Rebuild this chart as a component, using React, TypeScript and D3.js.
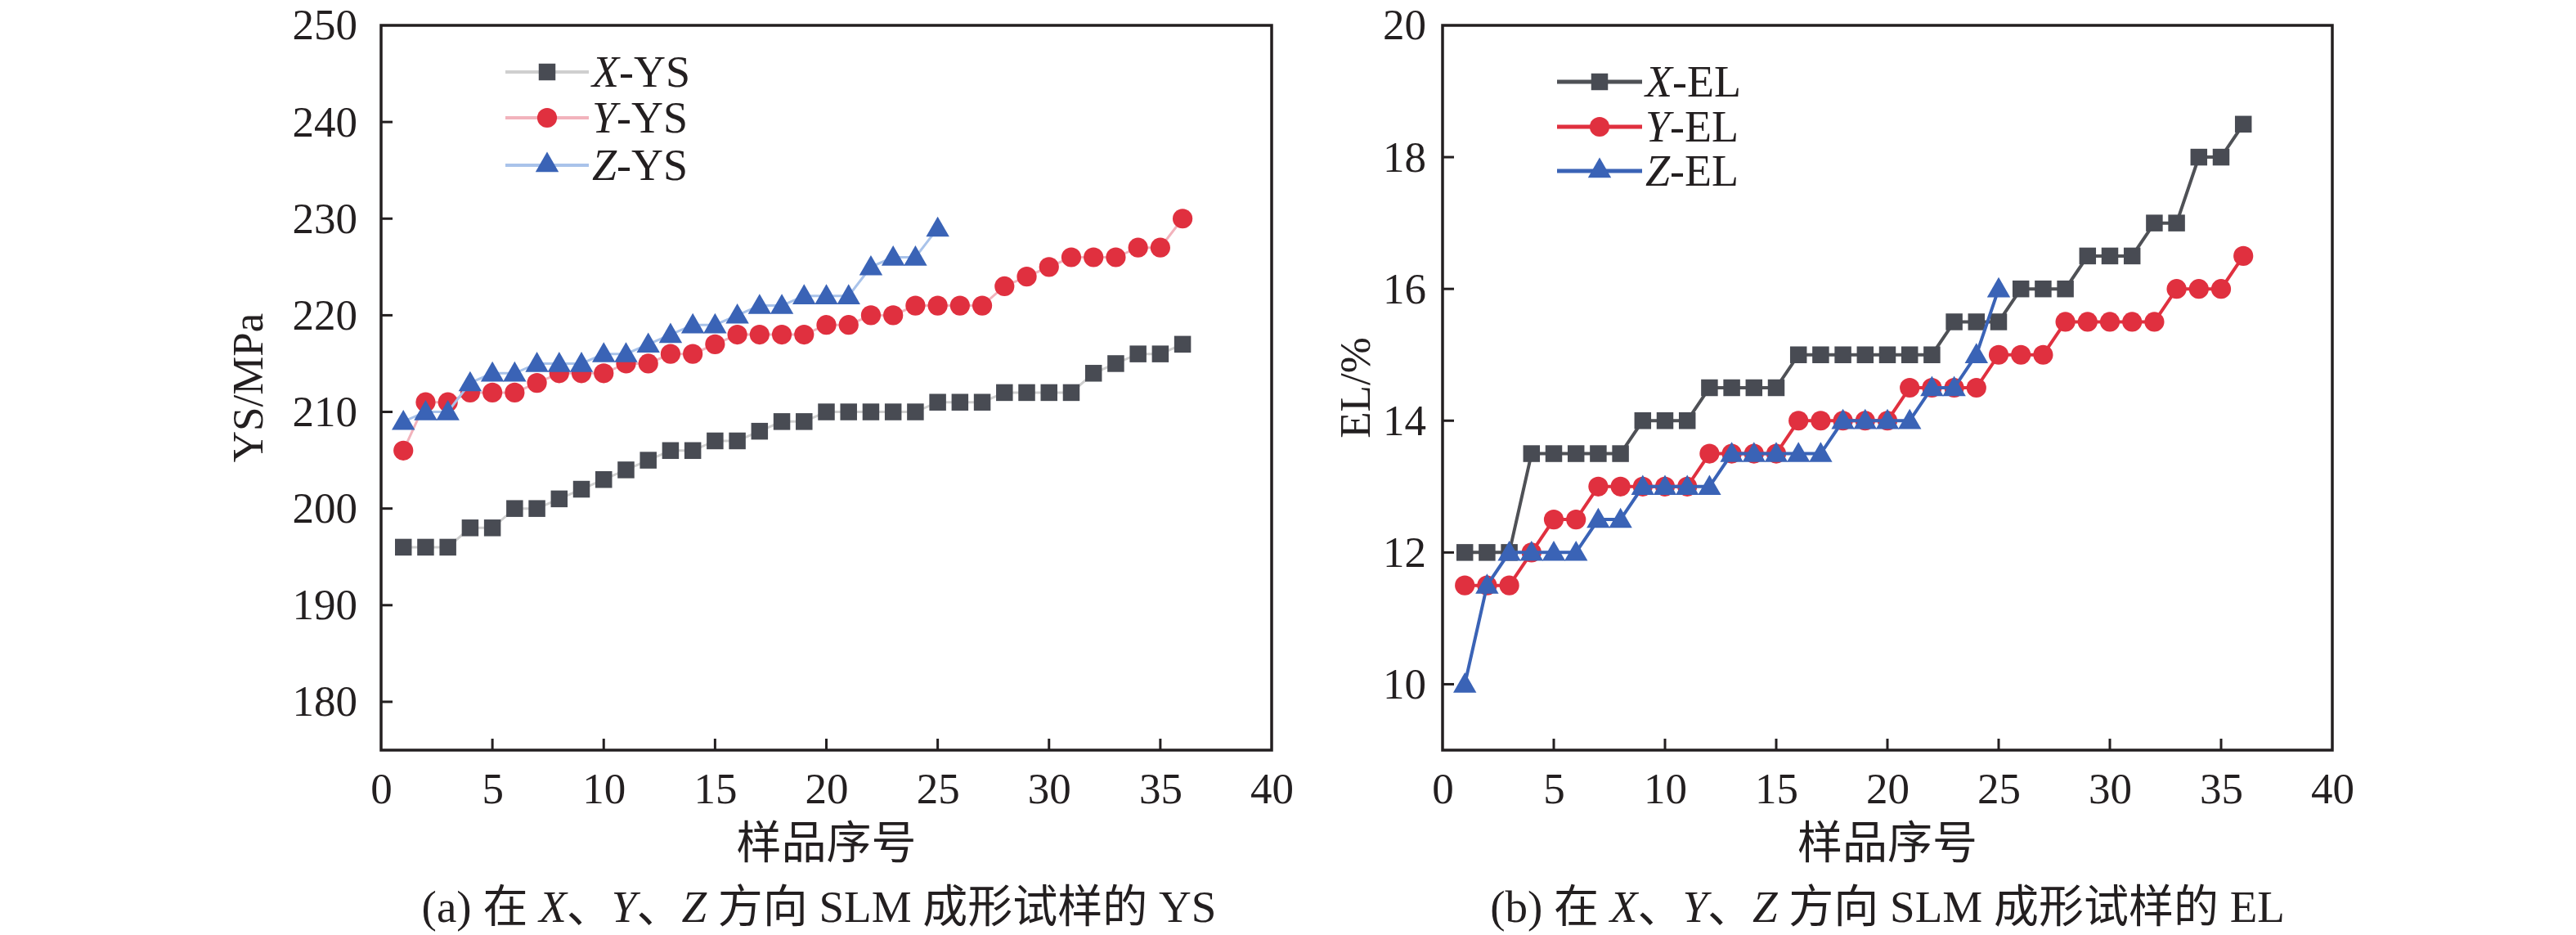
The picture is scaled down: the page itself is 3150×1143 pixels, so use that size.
import React, { useEffect, useRef } from 'react';
import * as d3 from 'd3';

// sample numbers (x axis)
const samples36 = [1, 2, 3, 4, 5, 6, 7, 8, 9, 10, 11, 12, 13, 14, 15, 16, 17, 18, 19, 20, 21, 22, 23, 24, 25, 26, 27, 28, 29, 30, 31, 32, 33, 34, 35, 36];
const samples25 = [1, 2, 3, 4, 5, 6, 7, 8, 9, 10, 11, 12, 13, 14, 15, 16, 17, 18, 19, 20, 21, 22, 23, 24, 25];

// yield strength, MPa
const xYS = [196, 196, 196, 198, 198, 200, 200, 201, 202, 203, 204, 205, 206, 206, 207, 207, 208, 209, 209, 210, 210, 210, 210, 210, 211, 211, 211, 212, 212, 212, 212, 214, 215, 216, 216, 217];
const yYS = [206, 211, 211, 212, 212, 212, 213, 214, 214, 214, 215, 215, 216, 216, 217, 218, 218, 218, 218, 219, 219, 220, 220, 221, 221, 221, 221, 223, 224, 225, 226, 226, 226, 227, 227, 230];
const zYS = [209, 210, 210, 213, 214, 214, 215, 215, 215, 216, 216, 217, 218, 219, 219, 220, 221, 221, 222, 222, 222, 225, 226, 226, 229];

// elongation, %
const xEL = [12, 12, 12, 13.5, 13.5, 13.5, 13.5, 13.5, 14, 14, 14, 14.5, 14.5, 14.5, 14.5, 15, 15, 15, 15, 15, 15, 15, 15.5, 15.5, 15.5, 16, 16, 16, 16.5, 16.5, 16.5, 17, 17, 18, 18, 18.5];
const yEL = [11.5, 11.5, 11.5, 12, 12.5, 12.5, 13, 13, 13, 13, 13, 13.5, 13.5, 13.5, 13.5, 14, 14, 14, 14, 14, 14.5, 14.5, 14.5, 14.5, 15, 15, 15, 15.5, 15.5, 15.5, 15.5, 15.5, 16, 16, 16, 16.5];
const zEL = [10, 11.5, 12, 12, 12, 12, 12.5, 12.5, 13, 13, 13, 13, 13.5, 13.5, 13.5, 13.5, 13.5, 14, 14, 14, 14, 14.5, 14.5, 15, 16];

const xTicks = [0, 5, 10, 15, 20, 25, 30, 35, 40];
const ysTicks = [180, 190, 200, 210, 220, 230, 240, 250];
const elTicks = [10, 12, 14, 16, 18, 20];

const FONT = '"Liberation Serif", "Times New Roman", "Noto Sans CJK SC", serif';
const MARK = { X: '#484b53', Y: '#e0303f', Z: '#3a63b6' };

interface Series {
  dir: string;
  suffix: string;
  xs: number[];
  ys: number[];
  marker: 'square' | 'circle' | 'triangle';
  line: string;
  fill: string;
}

interface PanelProps {
  left: number;
  right: number;
  yDomain: [number, number];
  yTicks: number[];
  yLabel: string;
  tickLabelGap: number;
  yLabelX: number;
  lineWidth: number;
  series: Series[];
  legend: { x0: number; x1: number; ys: number[] };
  caption: string;
  captionShift: number;
}

const TOP = 31;
const BOTTOM = 917;

const drawPanel = (svg: d3.Selection<SVGSVGElement, unknown, null, undefined>, p: PanelProps) => {
  const g = svg.append('g');
  const x = d3.scaleLinear().domain([0, 40]).range([p.left, p.right]);
  const y = d3.scaleLinear().domain(p.yDomain).range([BOTTOM, TOP]);

  // data lines + markers
  const symbolFor = (m: string) =>
    m === 'square' ? d3.symbolSquare : m === 'circle' ? d3.symbolCircle : d3.symbolTriangle;
  const sizeFor = (m: string) => (m === 'square' ? 420 : m === 'circle' ? 460 : 350);

  p.series.forEach(s => {
    const pts = s.xs.map((v, i) => [v, s.ys[i]] as [number, number]);
    const line = d3.line<[number, number]>().x(d => x(d[0])).y(d => y(d[1]));
    g.append('path')
      .attr('d', line(pts) ?? '')
      .attr('fill', 'none')
      .attr('stroke', s.line)
      .attr('stroke-width', p.lineWidth);
    const sym = d3.symbol().type(symbolFor(s.marker)).size(sizeFor(s.marker));
    g.selectAll(null)
      .data(pts)
      .enter()
      .append('path')
      .attr('d', sym() ?? '')
      .attr('transform', d => `translate(${x(d[0])},${y(d[1]) + (s.marker === 'triangle' ? 2 : 0)})`)
      .attr('fill', s.fill);
  });

  // frame
  g.append('rect')
    .attr('x', p.left)
    .attr('y', TOP)
    .attr('width', p.right - p.left)
    .attr('height', BOTTOM - TOP)
    .attr('fill', 'none')
    .attr('stroke', '#231f20')
    .attr('stroke-width', 3.5);

  // x axis: inward ticks
  const xa = g.append('g').attr('transform', `translate(0,${BOTTOM})`)
    .call(d3.axisBottom(x).tickValues(xTicks).tickSize(0).tickPadding(46).tickFormat(d3.format('d')));
  xa.select('.domain').remove();
  xa.selectAll('text').attr('font-family', FONT).attr('font-size', 53).attr('fill', '#231f20').attr('dy', '0.35em');
  g.selectAll(null)
    .data(xTicks.filter(t => t > 0 && t < 40))
    .enter()
    .append('line')
    .attr('x1', d => x(d)).attr('x2', d => x(d))
    .attr('y1', BOTTOM).attr('y2', BOTTOM - 14)
    .attr('stroke', '#231f20').attr('stroke-width', 3);

  // y axis: inward ticks
  const ya = g.append('g').attr('transform', `translate(${p.left},0)`)
    .call(d3.axisLeft(y).tickValues(p.yTicks).tickSize(0).tickPadding(p.tickLabelGap).tickFormat(d3.format('d')));
  ya.select('.domain').remove();
  ya.selectAll('text').attr('font-family', FONT).attr('font-size', 53).attr('fill', '#231f20');
  g.selectAll(null)
    .data(p.yTicks.filter(t => t > p.yDomain[0] && t < p.yDomain[1]))
    .enter()
    .append('line')
    .attr('x1', p.left).attr('x2', p.left + 14)
    .attr('y1', d => y(d)).attr('y2', d => y(d))
    .attr('stroke', '#231f20').attr('stroke-width', 3);

  // y label
  g.append('text')
    .attr('transform', `translate(${p.yLabelX},${(TOP + BOTTOM) / 2}) rotate(-90)`)
    .attr('text-anchor', 'middle')
    .attr('dominant-baseline', 'central')
    .attr('font-family', FONT)
    .attr('font-size', 53)
    .attr('fill', '#231f20')
    .text(p.yLabel);

  // x label
  const cx = (p.left + p.right) / 2;
  g.append('text')
    .attr('x', cx)
    .attr('y', 1030)
    .attr('text-anchor', 'middle')
    .attr('dominant-baseline', 'central')
    .attr('font-family', FONT)
    .attr('font-size', 55)
    .attr('fill', '#231f20')
    .text('样品序号');

  // legend
  p.series.forEach((s, i) => {
    const ly = p.legend.ys[i];
    g.append('line')
      .attr('x1', p.legend.x0).attr('x2', p.legend.x1)
      .attr('y1', ly).attr('y2', ly)
      .attr('stroke', s.line).attr('stroke-width', p.lineWidth + 1);
    const sym = d3.symbol().type(symbolFor(s.marker)).size(sizeFor(s.marker));
    g.append('path')
      .attr('d', sym() ?? '')
      .attr('transform', `translate(${(p.legend.x0 + p.legend.x1) / 2},${ly})`)
      .attr('fill', s.fill);
    const t = g.append('text')
      .attr('x', p.legend.x1 + 4)
      .attr('y', ly)
      .attr('dominant-baseline', 'central')
      .attr('font-family', FONT)
      .attr('font-size', 54)
      .attr('fill', '#231f20');
    t.append('tspan').attr('font-style', 'italic').text(s.dir);
    t.append('tspan').text(s.suffix);
  });

  // caption
  const cap = g.append('text')
    .attr('x', cx + p.captionShift)
    .attr('y', 1108)
    .attr('text-anchor', 'middle')
    .attr('dominant-baseline', 'central')
    .attr('font-family', FONT)
    .attr('font-size', 55)
    .attr('fill', '#231f20')
    .attr('xml:space', 'preserve');
  cap.append('tspan').text(`(${p.caption}) 在 `);
  cap.append('tspan').attr('font-style', 'italic').text('X');
  cap.append('tspan').text('、');
  cap.append('tspan').attr('font-style', 'italic').text('Y');
  cap.append('tspan').text('、');
  cap.append('tspan').attr('font-style', 'italic').text('Z');
  cap.append('tspan').text(` 方向 SLM 成形试样的 ${p.caption === 'a' ? 'YS' : 'EL'}`);
};

const App: React.FC = () => {
  const svgRef = useRef<SVGSVGElement>(null);

  useEffect(() => {
    if (!svgRef.current) return;
    const svg = d3.select(svgRef.current);
    svg.selectAll('*').remove();

    drawPanel(svg, {
      left: 466,
      right: 1555,
      yDomain: [175, 250],
      yTicks: ysTicks,
      yLabel: 'YS/MPa',
      tickLabelGap: 29,
      yLabelX: 303,
      lineWidth: 3,
      series: [
        { dir: 'X', suffix: '-YS', xs: samples36, ys: xYS, marker: 'square', line: '#cfcfcf', fill: MARK.X },
        { dir: 'Y', suffix: '-YS', xs: samples36, ys: yYS, marker: 'circle', line: '#f2b3bc', fill: MARK.Y },
        { dir: 'Z', suffix: '-YS', xs: samples25, ys: zYS, marker: 'triangle', line: '#a9c3ea', fill: MARK.Z },
      ],
      legend: { x0: 618, x1: 720, ys: [88, 144, 202] },
      caption: 'a',
      captionShift: -9,
    });

    drawPanel(svg, {
      left: 1764,
      right: 2852,
      yDomain: [9, 20],
      yTicks: elTicks,
      yLabel: 'EL/%',
      tickLabelGap: 20,
      yLabelX: 1657,
      lineWidth: 4,
      series: [
        { dir: 'X', suffix: '-EL', xs: samples36, ys: xEL, marker: 'square', line: '#4f5156', fill: MARK.X },
        { dir: 'Y', suffix: '-EL', xs: samples36, ys: yEL, marker: 'circle', line: '#e0303f', fill: MARK.Y },
        { dir: 'Z', suffix: '-EL', xs: samples25, ys: zEL, marker: 'triangle', line: '#3a63b6', fill: MARK.Z },
      ],
      legend: { x0: 1904, x1: 2008, ys: [100, 155, 209] },
      caption: 'b',
      captionShift: 0,
    });
  }, []);

  return (
    <svg
      ref={svgRef}
      width={3150}
      height={1143}
      style={{ position: 'absolute', left: 0, top: 0, background: '#fff' }}
    />
  );
};

export default App;
